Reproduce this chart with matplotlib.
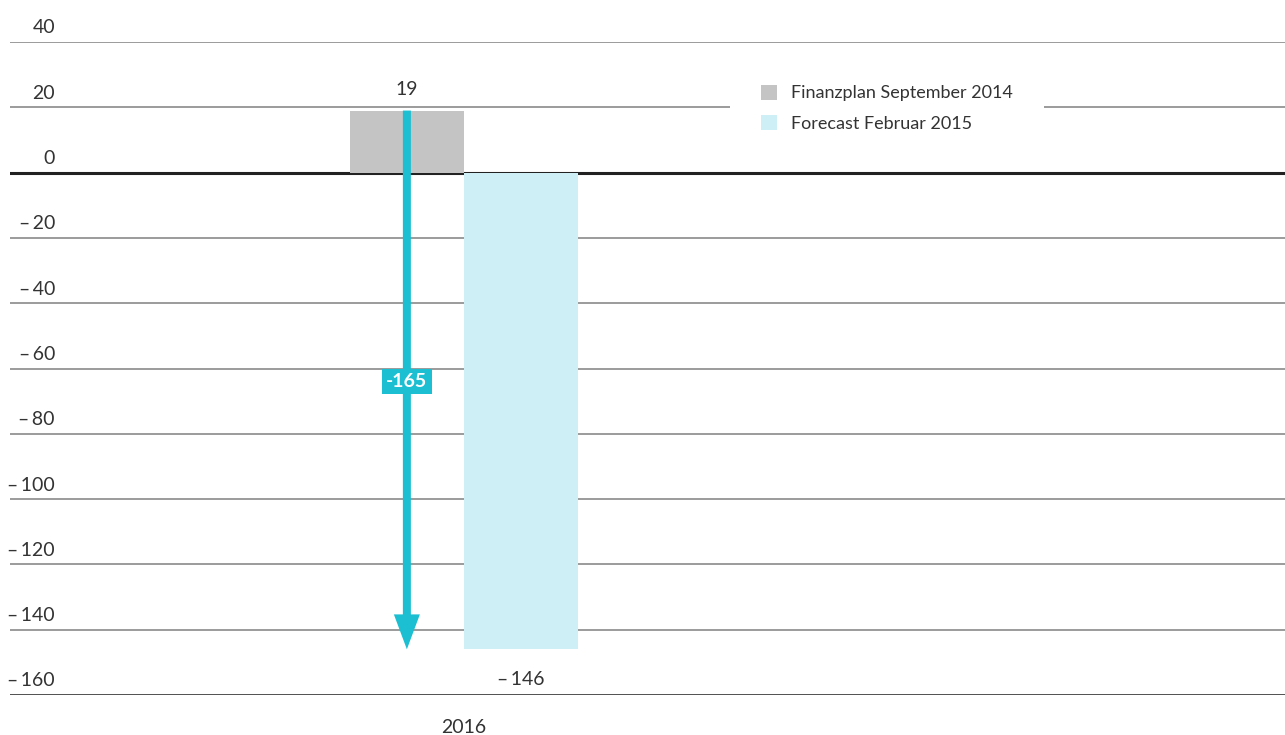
import matplotlib.pyplot as plt
from matplotlib.patches import Patch

names = ["Finanzplan September 2014", "Forecast Februar 2015"]
values = [19, -146]
change = -165
year = "2016"
yticks = [40, 20, 0, -20, -40, -60, -80, -100, -120, -140, -160]

colors = ["#c4c4c4", "#cdeff5"]
arrow_color = "#1bbfd1"

plt.rcParams['font.family'] = ['Lato', 'DejaVu Sans']

def fmt(v):
    return ("\u2013\u2009" + str(abs(v))) if v < 0 else str(v)

fig = plt.figure(figsize=(12.85, 7.35), dpi=100)
ax = fig.add_axes([10 / 1285, 1 - 695 / 735, 1 - 10 / 1285, (695 - 42) / 735])
ax.set_xlim(-3.48, 7.70)
ax.set_ylim(-160, 40)

for spine in ax.spines.values():
    spine.set_visible(False)
ax.set_xticks([])
ax.set_yticks([])

for t in yticks:
    if t == 0:
        ax.axhline(t, color="#222222", lw=2.2, zorder=1)
    elif t == -160:
        ax.axhline(t, color="#333333", lw=1.2, zorder=1)
    else:
        ax.axhline(t, color="#808080", lw=1.1, zorder=1)
    ax.annotate(fmt(t), xy=(45 / 1275, t), xycoords=ax.get_yaxis_transform(),
                xytext=(0, 4), textcoords="offset points",
                ha="right", va="bottom", fontsize=14, color="#333333")

xs = [0, 1]
ax.bar(xs, values, width=1.0, color=colors, zorder=2)

ax.text(xs[0], values[0] + 4, fmt(values[0]), ha="center", va="bottom", fontsize=14, color="#333333")
ax.text(xs[1], values[1] - 6.5, fmt(values[1]), ha="center", va="top", fontsize=14, color="#333333")

# arrow showing the change
ax.annotate("", xy=(xs[0], values[0] + change), xytext=(xs[0], values[0]),
            arrowprops=dict(arrowstyle="simple,head_width=1.17,tail_width=0.36,head_length=1.57",
                            color=arrow_color, lw=0, shrinkA=0, shrinkB=0,
                            mutation_scale=16),
            zorder=4)
ax.text(xs[0], -64, "-" + str(abs(change)), ha="center", va="center", fontsize=14,
        fontweight="bold", color="white", zorder=5,
        bbox=dict(boxstyle="square,pad=0.22", fc=arrow_color, ec="none"))

ax.text(0.5, -167.5, year, ha="center", va="top", fontsize=14, color="#333333")

handles = [Patch(facecolor=c, edgecolor="none") for c in colors]
leg = ax.legend(handles, names, loc="upper left", bbox_to_anchor=(720 / 1275, 1 - 12 / 653),
                frameon=True, fontsize=13, handlelength=0.9, handleheight=0.9,
                handletextpad=0.8, labelspacing=0.75, borderpad=1.7, borderaxespad=0)
leg.get_frame().set_facecolor("white")
leg.get_frame().set_edgecolor("none")
leg.get_frame().set_alpha(1)
for txt in leg.get_texts():
    txt.set_color("#333333")

fig.savefig("out.png", dpi=100)
